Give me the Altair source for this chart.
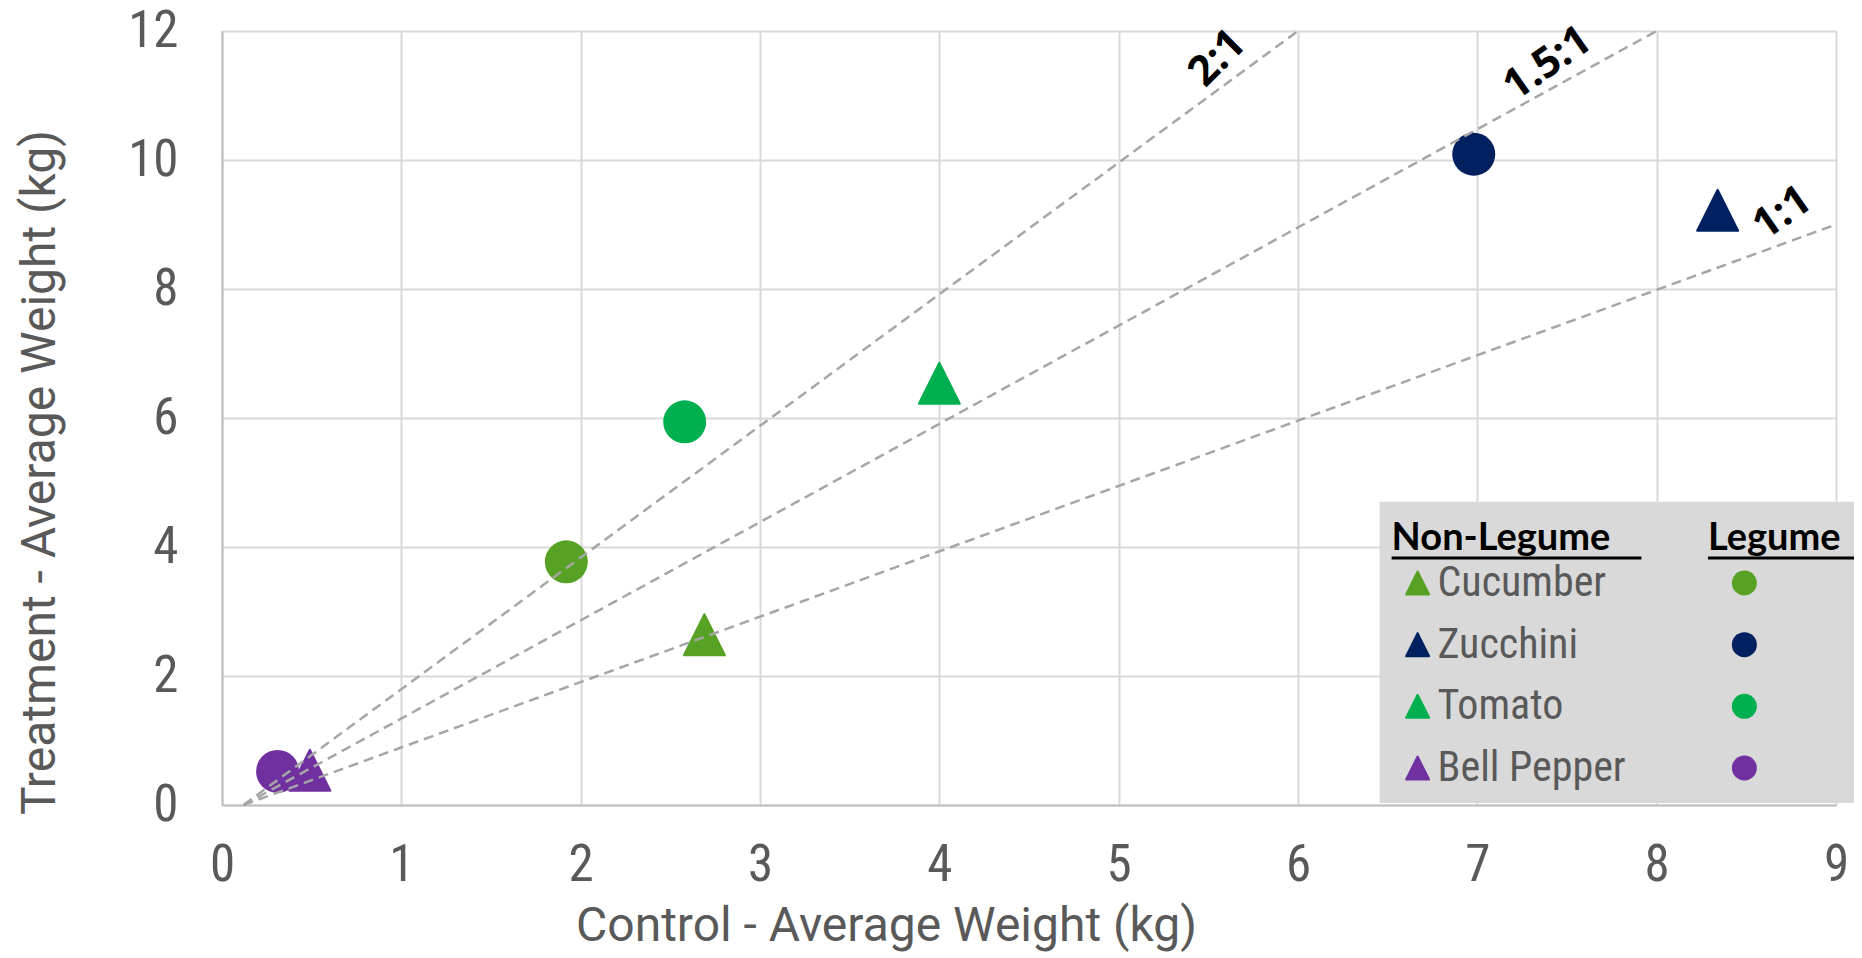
import altair as alt
import pandas as pd

# ---------------- data ----------------
crops = ["Cucumber", "Zucchini", "Tomato", "Bell Pepper"]
crop_colors = ["#57A225", "#002060", "#00B050", "#7030A0"]

non_legume_x = [2.69, 8.34, 4.00, 0.49]
non_legume_y = [2.64, 9.22, 6.54, 0.54]
legume_x = [1.92, 6.98, 2.58, 0.31]
legume_y = [3.77, 10.09, 5.94, 0.52]

ratio_names = ["2:1", "1.5:1", "1:1"]
ratio_start_x = [0.12, 0.12, 0.12]
ratio_start_y = [0.0, 0.0, 0.0]
ratio_end_x = [6.0, 8.0, 9.0]
ratio_end_y = [12.0, 12.0, 9.0]
ratio_label_x = [5.55, 7.39, 8.70]
ratio_label_y = [11.58, 11.50, 9.18]

x_ticks = [0, 1, 2, 3, 4, 5, 6, 7, 8, 9]
y_ticks = [0, 2, 4, 6, 8, 10, 12]

x_title = "Control - Average Weight (kg)"
y_title = "Treatment - Average Weight (kg)"
legend_headers = ["Non-Legume", "Legume"]

# ---------------- styling / layout constants ----------------
TRI = "M0,-1L1,1L-1,1Z"
NARROW = "Roboto Condensed, Liberation Sans Narrow, DejaVu Sans Condensed, Liberation Sans"
TITLE_FONT = "Roboto"
BOLD = "Lato"
LABEL_FONT = "Open Sans"
GREY_TXT = "#595959"
label_angles = [315, 325, 325]

PLOT_W, PLOT_H = 1614, 774

xs = alt.Scale(domain=[0, 9], nice=False)
ys = alt.Scale(domain=[0, 12], nice=False)
cs = alt.Scale(domain=crops, range=crop_colors)

# ---------------- tables ----------------
tri_df = pd.DataFrame({"crop": crops, "x": non_legume_x, "y": non_legume_y})
cir_df = pd.DataFrame({"crop": crops, "x": legume_x, "y": legume_y})

line_rows = []
for i, n in enumerate(ratio_names):
    line_rows.append({"ratio": n, "x": ratio_start_x[i], "y": ratio_start_y[i], "o": 0})
    line_rows.append({"ratio": n, "x": ratio_end_x[i], "y": ratio_end_y[i], "o": 1})
line_df = pd.DataFrame(line_rows)

lab_df = pd.DataFrame({"t": ratio_names, "x": ratio_label_x, "y": ratio_label_y,
                       "a": label_angles})

# legend geometry (data units of the chart)
LEG_L, LEG_R, LEG_T, LEG_B = 6.455, 9.3, 4.70, 0.03
HEAD_Y, UL_Y = 3.953, 3.83
COL1_X, COL2_X = 6.522, 8.286
UL_ENDS = [7.915, 9.3]
ROW0, ROW_STEP = 3.442, 0.956
TRI_X, LAB_X, CIR_X = 6.667, 6.778, 8.489

box_df = pd.DataFrame({"x": [LEG_L], "x2": [LEG_R], "y": [LEG_T], "y2": [LEG_B]})
head_df = pd.DataFrame({"t": legend_headers, "x": [COL1_X, COL2_X], "y": [HEAD_Y, HEAD_Y]})
ul_df = pd.DataFrame({"x": [COL1_X, COL2_X], "x2": UL_ENDS, "y": [UL_Y, UL_Y]})
rows_df = pd.DataFrame({"crop": crops,
                        "y": [ROW0 - i * ROW_STEP for i in range(len(crops))],
                        "tx": [TRI_X] * len(crops),
                        "lx": [LAB_X] * len(crops),
                        "cx": [CIR_X] * len(crops)})

X = lambda f="x": alt.X(f"{f}:Q", scale=xs)
Y = lambda f="y": alt.Y(f"{f}:Q", scale=ys)

base_axes = alt.Chart(tri_df).mark_point(opacity=0).encode(
    x=alt.X("x:Q", scale=xs, title=x_title,
            axis=alt.Axis(values=x_ticks, format="d", labelFlush=False,
                          titleX=664, titleY=135,
                          titleBaseline="alphabetic", titleAlign="center",
                          labelPadding=35)),
    y=alt.Y("y:Q", scale=ys, title=y_title,
            axis=alt.Axis(values=y_ticks, format="d", labelFlush=False,
                          titleAngle=270, titleX=-168,
                          titleY=441, titleBaseline="alphabetic", titleAlign="center",
                          labelPadding=44)),
)

triangles = alt.Chart(tri_df).mark_point(
    shape=TRI, filled=True, size=1681, strokeWidth=2, strokeJoin="round", opacity=1
).encode(x=X(), y=Y(),
         fill=alt.Fill("crop:N", scale=cs, legend=None),
         stroke=alt.Stroke("crop:N", scale=cs, legend=None))

circles = alt.Chart(cir_df).mark_circle(size=1849, opacity=1).encode(
    x=X(), y=Y(), color=alt.Color("crop:N", scale=cs, legend=None))

lines = alt.Chart(line_df).mark_line(
    color="#A6A6A6", strokeWidth=2.5, strokeDash=[10, 6]
).encode(x=X(), y=Y(), detail="ratio:N", order="o:Q")

labels = alt.Chart(lab_df).mark_text(
    font=LABEL_FONT, fontWeight="bold", fontSize=42, color="#000000",
    align="center", baseline="middle"
).encode(x=X(), y=Y(), text="t:N", angle=alt.Angle("a:Q", scale=None))

box = alt.Chart(box_df).mark_rect(color="#D9D9D9").encode(
    x=X(), x2="x2:Q", y=Y(), y2="y2:Q")

heads = alt.Chart(head_df).mark_text(
    font=BOLD, fontWeight="bold", fontSize=38, color="#000000",
    align="left", baseline="alphabetic"
).encode(x=X(), y=Y(), text="t:N")

underlines = alt.Chart(ul_df).mark_rule(color="#000000", strokeWidth=3).encode(
    x=X(), x2="x2:Q", y=Y())

leg_tri = alt.Chart(rows_df).mark_point(
    shape=TRI, filled=True, size=529, strokeWidth=2, strokeJoin="round", opacity=1
).encode(x=X("tx"), y=Y(),
         fill=alt.Fill("crop:N", scale=cs, legend=None),
         stroke=alt.Stroke("crop:N", scale=cs, legend=None))

leg_lab = alt.Chart(rows_df).mark_text(
    font=NARROW, fontSize=42, color=GREY_TXT, align="left", baseline="middle"
).encode(x=X("lx"), y=Y(), text="crop:N")

leg_cir = alt.Chart(rows_df).mark_circle(size=625, opacity=1).encode(
    x=X("cx"), y=Y(), color=alt.Color("crop:N", scale=cs, legend=None))

chart = alt.layer(
    base_axes, triangles, circles, lines, labels,
    box, heads, underlines, leg_tri, leg_lab, leg_cir
).properties(
    width=PLOT_W, height=PLOT_H,
    autosize=alt.AutoSizeParams(type="none"),
    padding={"left": 214, "top": 23, "right": 18, "bottom": 147},
    background="#FFFFFF",
).configure_view(strokeWidth=0).configure_axis(
    domainColor="#BFBFBF", domainWidth=2,
    gridColor="#D9D9D9", gridWidth=2,
    ticks=False, tickSize=0,
    labelFont=NARROW, labelFontSize=51, labelColor=GREY_TXT,
    titleFont=TITLE_FONT, titleFontSize=48, titleColor=GREY_TXT, titleFontWeight="normal",
)

chart.save("out.html", embed_options={"renderer": "svg", "actions": False})
